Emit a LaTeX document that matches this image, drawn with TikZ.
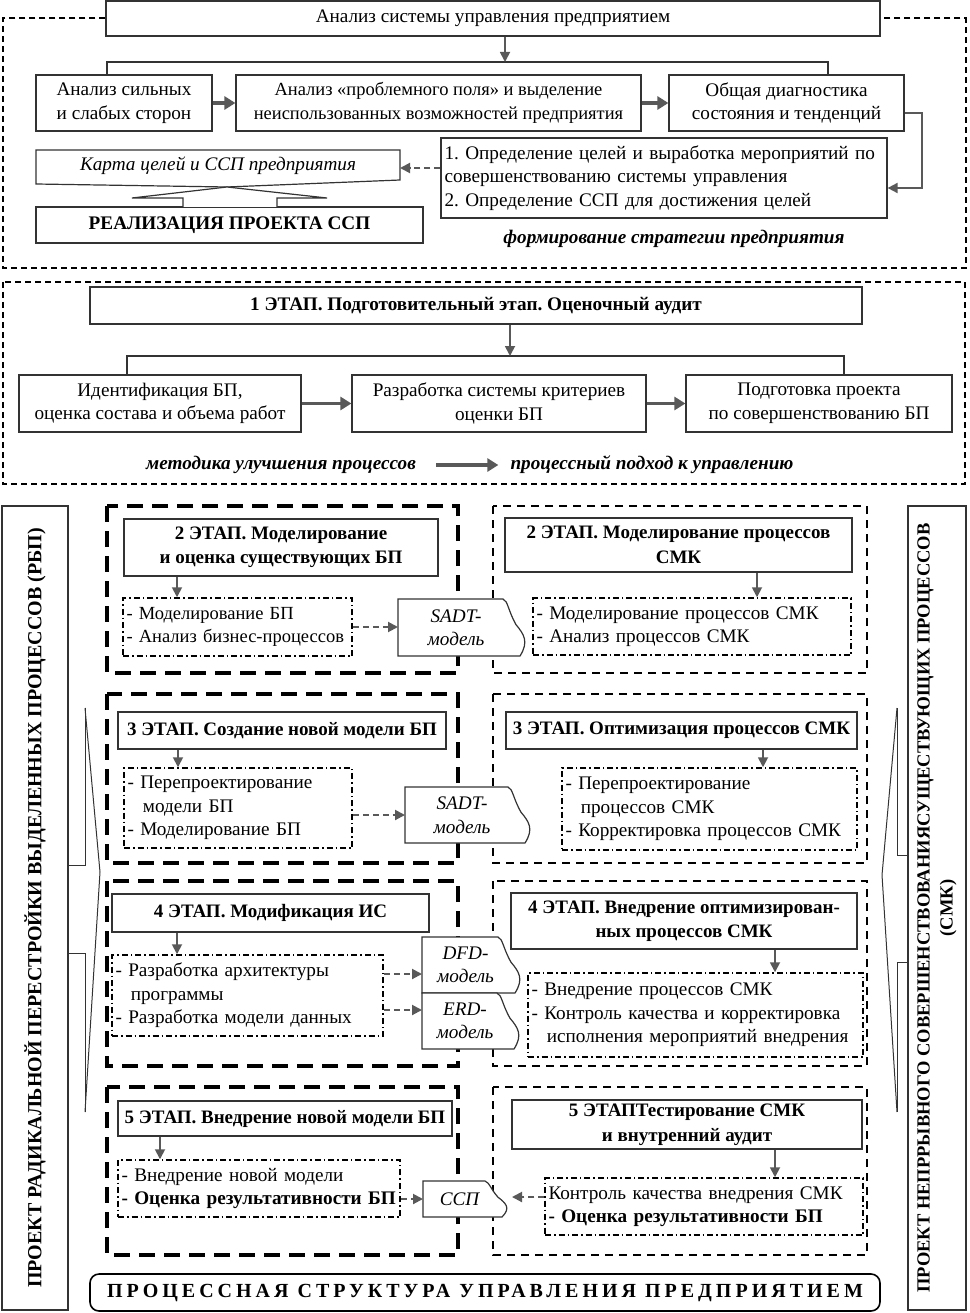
\documentclass[tikz,border=0pt]{standalone}
\usepackage{fontspec}
\setmainfont{Liberation Serif}
\newfontfamily\spacedfont[LetterSpace=20]{Liberation Serif}
\usetikzlibrary{arrows.meta,calc}
\definecolor{ag}{HTML}{595959}
\newcommand\myfs{\fontsize{19.2}{23.5}\selectfont}
\newcommand\myts{\fontsize{19}{24.5}\selectfont\bfseries}
\newcommand\lne[1]{\mbox{#1}}
\tikzset{
 basebox/.style={draw=black!80, line width=1.2pt, inner sep=0pt, align=center, font=\myfs},
 titlebox/.style={basebox, font=\myts},
 lefttext/.style={align=left, text width=\bxt pt},
 ddbox/.style={basebox, lefttext, draw=black, dash pattern=on 6pt off 3pt on 1.5pt off 3pt, line width=1.5pt},
 txt/.style={inner sep=0pt, font=\myfs, align=center},
 thickarr/.style={draw=ag, line width=3.5pt, -{Triangle[length=11pt,width=13pt]}},
 thinarr/.style={draw=ag, line width=1.8pt, -{Triangle[length=10pt,width=10pt]}},
 dasharr/.style={draw=ag, line width=2pt, dash pattern=on 6pt off 4pt, -{Triangle[length=10pt,width=10pt]}},
 branchln/.style={draw=black!80, line width=1.2pt},
 secframe/.style={draw=black, line width=2pt, dash pattern=on 6pt off 4pt},
 lframe/.style={draw=black, line width=4pt, dash pattern=on 16pt off 9pt},
 rframe/.style={draw=black, line width=2.5pt, dash pattern=on 8pt off 6pt},
 docline/.style={draw=black!80, line width=1.2pt, fill=white},
 sideln/.style={draw=black!80, line width=1pt},
}
% box: [style]{name}{x1}{y1}{x2}{y2}{text}
\newcommand\bx[7][]{%
  \pgfmathsetmacro\bxcx{(#3+#5)/2}%
  \pgfmathsetmacro\bxcy{(#4+#6)/2}%
  \pgfmathsetmacro\bxw{#5-#3}%
  \pgfmathsetmacro\bxh{#6-#4}%
  \pgfmathsetmacro\bxt{#5-#3-7}%
  \node[basebox,#1,minimum width=\bxw pt,minimum height=\bxh pt] (#2) at (\bxcx,\bxcy) {#7};}
% document shape: {name}{x1}{y1}{x2}{y2}{text}
\newcommand\docsh[6]{%
  \pgfmathsetmacro\dw{#4-#2}%
  \pgfmathsetmacro\dh{#5-#3}%
  \begin{scope}[shift={(#4,#3)}]
   \draw[docline] (-\dw,\dh) -- (-\dw,0) -- (-25,0) .. controls (-20,2) and (-20,0.2*\dh) .. (-12,0.45*\dh) .. controls (-4,0.62*\dh) and (1,0.75*\dh) .. (-8,\dh) -- cycle;
  \end{scope}
  \node[txt,font=\myfs\itshape] (#1) at ({(#2+#4)/2-7},{(#3+#5)/2}) {#6};
  \coordinate (#1-w) at (#2,{(#3+#5)/2});}
\begin{document}
\frenchspacing
\begin{tikzpicture}[x=1pt,y=-1pt]
\useasboundingbox (0,0) rectangle (969,1313);

% ---------- Section 1 ----------
\bx{top}{106}{1}{880}{36}{Анализ системы управления предприятием}
\draw[secframe] (top.west) -- (3,18.5) -- (3,268) -- (966,268) -- (966,18.5) -- (top.east);
\bx{b1}{36}{75}{212}{131}{Анализ сильных\\и слабых сторон}
\bx[font=\fontsize{18.5}{23.5}\selectfont]{b2}{236}{75}{641}{131}{Анализ «проблемного поля» и выделение\\неиспользованных возможностей предприятия}
\bx{b3}{669}{75}{904}{131}{Общая диагностика\\состояния и тенденций}
\coordinate (j1) at (505,62);
\coordinate (j1l) at (107,62);
\coordinate (j1r) at (828,62);
\draw[branchln] (b1.north -| j1l) -- (j1l) -- (j1r) -- (b3.north -| j1r);
\draw[thinarr] (top.south -| j1) -- (j1);
\draw[thickarr] (b1.east) -- (b2.west);
\draw[thickarr] (b2.east) -- (b3.west);
\bx[lefttext]{goals}{441}{138}{887}{218}{\lne{1. Определение целей и выработка мероприятий по}\\\lne{совершенствованию системы управления}\\\lne{2. Определение ССП для достижения целей}}
\coordinate (c1) at (922,113);
\coordinate (c2) at (922,188);
\draw[thinarr] (b3.east |- c1) -- (c1) -- (c2) -- (goals.east |- c2);
\draw[docline] (36,150) -- (400,150) -- (400,180) -- (227,187) -- (36,184) -- cycle;
\node[txt,font=\myfs\itshape] (karta) at (218,166) {Карта целей и ССП предприятия};
\coordinate (kartae) at (400,168);
\draw[dasharr] (goals.west |- kartae) -- (kartae);
\bx[font=\myfs\bfseries]{real}{36}{207}{423}{243}{РЕАЛИЗАЦИЯ ПРОЕКТА ССП}
\draw[docline] (183,207) -- (183,198) -- (132,198) -- (227,187) -- (327,198) -- (277,198) -- (277,207);
\node[txt,font=\myfs\bfseries\itshape] (strat) at (674,239) {формирование стратегии предприятия};

% ---------- Section 2 ----------
\draw[secframe] (3,282) rectangle (965,484);
\bx[font=\myfs\bfseries]{st1}{90}{287}{862}{324}{1 ЭТАП. Подготовительный этап. Оценочный аудит}
\bx{s1}{19}{375}{301}{432}{Идентификация БП,\\оценка состава и объема работ}
\bx{s2}{352}{375}{646}{432}{Разработка системы критериев\\оценки БП}
\bx{s3}{686}{375}{952}{432}{Подготовка проекта\\по совершенствованию БП}
\coordinate (j2) at (510,356);
\coordinate (j2l) at (127,356);
\coordinate (j2r) at (844,356);
\draw[branchln] (s1.north -| j2l) -- (j2l) -- (j2r) -- (s3.north -| j2r);
\draw[thinarr] (st1.south -| j2) -- (j2);
\draw[thickarr] (s1.east) -- (s2.west);
\draw[thickarr] (s2.east) -- (s3.west);
\node[txt,font=\myfs\bfseries\itshape] (m1) at (281,465) {методика улучшения процессов};
\node[txt,font=\myfs\bfseries\itshape] (m2) at (652,465) {процессный подход к управлению};
\draw[thickarr, shorten <=20pt, shorten >=12pt] (m1.east) -- (m2.west);

% ---------- Section 3: side boxes ----------
\node[draw=black!80, line width=1.5pt, rotate=90, minimum width=804pt, minimum height=66pt, inner sep=0pt, font=\fontsize{20}{23}\selectfont\bfseries] (lside) at (35,908) {ПРОЕКТ РАДИКАЛЬНОЙ ПЕРЕСТРОЙКИ ВЫДЕЛЕННЫХ ПРОЦЕССОВ (РБП)};
\node[draw=black!80, line width=1.5pt, rotate=90, minimum width=804pt, minimum height=58pt, inner sep=0pt, align=center, font=\fontsize{18.5}{23}\selectfont\bfseries] (rside) at (937,908) {ПРОЕКТ НЕПРРЫВНОГО СОВЕРШЕНСТВОВАНИЯСУЩЕСТВУЮЩИХ ПРОЦЕССОВ\\(СМК)};
\draw[sideln] (85,708) -- (85,865) -- (68,865);
\draw[sideln] (68,953) -- (85,953) -- (85,1112);
\draw[sideln] (85,708) -- (100,872) -- (85,1112);
\draw[sideln] (897,708) -- (897,855) -- (908,855);
\draw[sideln] (908,962) -- (897,962) -- (897,1112);
\draw[sideln] (897,708) -- (882,875) -- (897,1112);

% ---------- stage frames ----------
\draw[lframe] (107,506) rectangle (458,673);
\draw[rframe] (493,506) rectangle (867,673);
\draw[lframe] (107,694) rectangle (458,863);
\draw[rframe] (493,694) rectangle (867,863);
\draw[lframe] (107,881) rectangle (458,1066);
\draw[rframe] (493,881) rectangle (867,1066);
\draw[lframe] (107,1087) rectangle (458,1255);
\draw[rframe] (493,1087) rectangle (867,1255);

% ---------- stage 2 ----------
\bx[titlebox]{t2l}{124}{519}{438}{576}{2 ЭТАП. Моделирование\\и оценка существующих БП}
\bx[titlebox]{t2r}{505}{518}{852}{572}{2 ЭТАП. Моделирование процессов\\СМК}
\bx[ddbox,font=\fontsize{18.5}{23.5}\selectfont]{d2l}{123}{598}{352}{656}{\lne{- Моделирование БП}\\\lne{- Анализ бизнес-процессов}}
\bx[ddbox]{d2r}{533}{598}{851}{655}{\lne{- Моделирование процессов СМК}\\\lne{- Анализ процессов СМК}}
\coordinate (a2l) at (177,0);
\coordinate (a2r) at (757,0);
\draw[thinarr] (t2l.south -| a2l) -- (d2l.north -| a2l);
\draw[thinarr] (t2r.south -| a2r) -- (d2r.north -| a2r);
\docsh{sadt2}{398}{599}{528}{656}{SADT-\\модель}
\draw[dasharr] (d2l.east) -- (d2l.east -| sadt2-w);

% ---------- stage 3 ----------
\bx[titlebox]{t3l}{118}{712}{446}{749}{3 ЭТАП. Создание новой модели БП}
\bx[titlebox]{t3r}{506}{712}{857}{749}{3 ЭТАП. Оптимизация процессов СМК}
\bx[ddbox]{d3l}{124}{768}{352}{848}{\lne{- Перепроектирование}\\\lne{\hspace*{0.8em}модели БП}\\\lne{- Моделирование БП}}
\bx[ddbox]{d3r}{562}{768}{857}{850}{\lne{- Перепроектирование}\\\lne{\hspace*{0.8em}процессов СМК}\\\lne{- Корректировка процессов СМК}}
\coordinate (a3l) at (178,0);
\coordinate (a3r) at (763,0);
\draw[thinarr] (t3l.south -| a3l) -- (d3l.north -| a3l);
\draw[thinarr] (t3r.south -| a3r) -- (d3r.north -| a3r);
\docsh{sadt3}{405}{787}{533}{843}{SADT-\\модель}
\draw[dasharr] (d3l.east |- sadt3-w) -- (sadt3-w);

% ---------- stage 4 ----------
\bx[titlebox]{t4l}{112}{894}{429}{932}{4 ЭТАП. Модификация ИС}
\bx[titlebox]{t4r}{511}{893}{857}{949}{4 ЭТАП. Внедрение оптимизирован-\\ных процессов СМК}
\bx[ddbox]{d4l}{112}{955}{383}{1036}{\lne{- Разработка архитектуры}\\\lne{\hspace*{0.8em}программы}\\\lne{- Разработка модели данных}}
\bx[ddbox]{d4r}{528}{973}{863}{1057}{\lne{- Внедрение процессов СМК}\\\lne{- Контроль качества и корректировка}\\\lne{\hspace*{0.8em}исполнения мероприятий внедрения}}
\coordinate (a4l) at (177,0);
\coordinate (a4r) at (775,0);
\draw[thinarr] (t4l.south -| a4l) -- (d4l.north -| a4l);
\draw[thinarr] (t4r.south -| a4r) -- (d4r.north -| a4r);
\docsh{dfd}{422}{937}{523}{993}{DFD-\\модель}
\docsh{erd}{422}{993}{522}{1049}{ERD-\\модель}
\coordinate (dfdin) at (422,974);
\coordinate (erdin) at (422,1010);
\draw[dasharr] (d4l.east |- dfdin) -- (dfdin);
\draw[dasharr] (d4l.east |- erdin) -- (erdin);

% ---------- stage 5 ----------
\bx[titlebox]{t5l}{118}{1101}{452}{1136}{5 ЭТАП. Внедрение новой модели БП}
\bx[titlebox]{t5r}{512}{1100}{862}{1149}{5 ЭТАПТестирование СМК\\и внутренний аудит}
\bx[ddbox]{d5l}{118}{1160}{400}{1217}{\lne{- Внедрение новой модели}\\\lne{\textbf{- Оценка результативности БП}}}
\bx[ddbox]{d5r}{545}{1178}{863}{1235}{\lne{Контроль качества внедрения СМК}\\\lne{\textbf{- Оценка результативности БП}}}
\coordinate (a5l) at (160,0);
\coordinate (a5r) at (775,0);
\draw[thinarr] (t5l.south -| a5l) -- (d5l.north -| a5l);
\draw[thinarr] (t5r.south -| a5r) -- (d5r.north -| a5r);
\docsh{ssp}{423}{1181}{510}{1217}{ССП}
\draw[dasharr] (d5l.east |- ssp-w) -- (ssp-w);
\coordinate (sspin) at (512,1197);
\draw[dasharr] (d5r.west |- sspin) -- (sspin);

% ---------- bottom ----------
\node[draw=black, line width=1.6pt, rounded corners=9pt, minimum width=790pt, minimum height=37pt, inner sep=0pt, font=\spacedfont\fontsize{20}{23}\selectfont\bfseries] (bottom) at (485,1292.5) {ПРОЦЕССНАЯ СТРУКТУРА УПРАВЛЕНИЯ ПРЕДПРИЯТИЕМ};
\end{tikzpicture}
\end{document}
